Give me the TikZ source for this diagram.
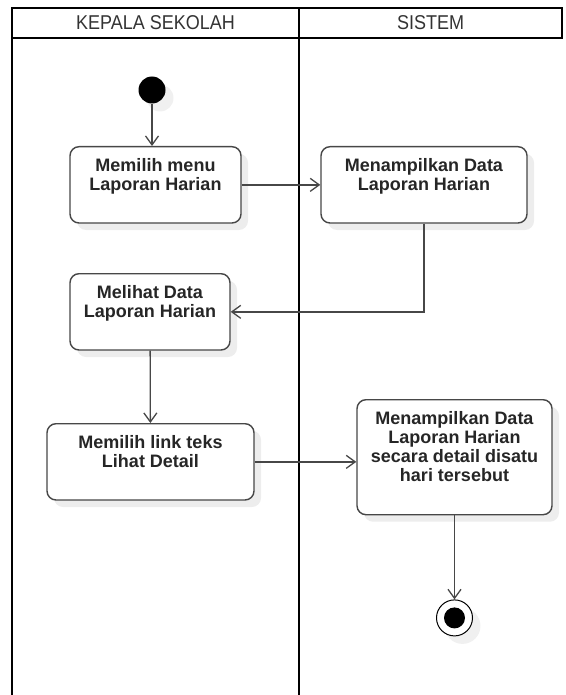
\documentclass[tikz,border=0pt]{standalone}
\usepackage{fontspec}
\setmainfont{Liberation Sans}
\newfontfamily\lanefont[FakeStretch=0.9]{Liberation Sans}
\usetikzlibrary{arrows.meta,positioning,shadows}

\begin{document}
\begin{tikzpicture}[
    x=1pt, y=-1pt,
    >={Straight Barb[length=9pt,width=13pt]},
    lane/.style={
        rectangle,
        draw=black,
        line width=2.6pt,
        minimum height=30pt,
        inner sep=0pt,
        outer sep=0pt,
        font=\lanefont\fontsize{20pt}{20pt}\selectfont,
        text=black!80
    },
    act/.style={
        rectangle,
        rounded corners=9pt,
        draw=black!72,
        line width=1.4pt,
        fill=white,
        drop shadow={shadow xshift=7pt, shadow yshift=-7pt, fill=black!7, opacity=1},
        align=center,
        anchor=north,
        inner xsep=4pt,
        inner ysep=0pt,
        text height=43.8pt,
        text depth=32.5pt,
        font=\bfseries\fontsize{18pt}{18.8pt}\selectfont,
        text=black!85
    },
    tall/.style={text height=81.4pt, text depth=33.6pt},
    startnode/.style={
        circle,
        fill=black,
        minimum size=27pt,
        inner sep=0pt,
        drop shadow={shadow xshift=8pt, shadow yshift=-8pt, fill=black!6, opacity=1}
    },
    endnode/.style={
        circle,
        draw=black,
        line width=1pt,
        fill=white,
        minimum size=36pt,
        inner sep=0pt,
        drop shadow={shadow xshift=8pt, shadow yshift=-8pt, fill=black!6, opacity=1},
        path picture={\fill[black] (path picture bounding box.center) circle (10.5pt);}
    },
    flow/.style={->, draw=black!72, line width=1.3pt}
]
\useasboundingbox (0,0) rectangle (565,695);

% swimlanes
\node[lane, minimum width=287pt] (kepsek) at (155.5,23) {KEPALA SEKOLAH};
\node[lane, minimum width=263pt] (sistem) at (430.5,23) {SISTEM};
\draw[line width=2.6pt] (kepsek.south west) -- (kepsek.south west |- 0,695);
\draw[line width=2.6pt] (kepsek.south east) -- (kepsek.south east |- 0,695);

% activities
\node[startnode] (start) at (152,90) {};
\node[act, minimum width=171pt] (menu) at (155.5,146) {Memilih menu\\Laporan Harian};
\node[act, minimum width=206pt] (tampil) at (424,146) {Menampilkan Data\\Laporan Harian};
\node[act, minimum width=160pt] (lihat) at (150,273) {Melihat Data\\Laporan Harian};
\node[act, minimum width=207pt] (link) at (150.5,423) {Memilih link teks\\Lihat Detail};
\node[act, tall, minimum width=195pt] (detail) at (454.5,399) {Menampilkan Data\\Laporan Harian\\secara detail disatu\\hari tersebut};
\node[endnode, below=84pt of detail] (finish) {};

% flows
\draw[flow] (start) -- (start |- menu.north);
\draw[flow] (menu) -- (tampil);
\draw[flow] (tampil.south) |- (lihat.east);
\draw[flow] (lihat) -- (link);
\draw[flow] (link.east) -- (link.east -| detail.west);
\draw[flow] (detail) -- (finish);

\end{tikzpicture}
\end{document}
